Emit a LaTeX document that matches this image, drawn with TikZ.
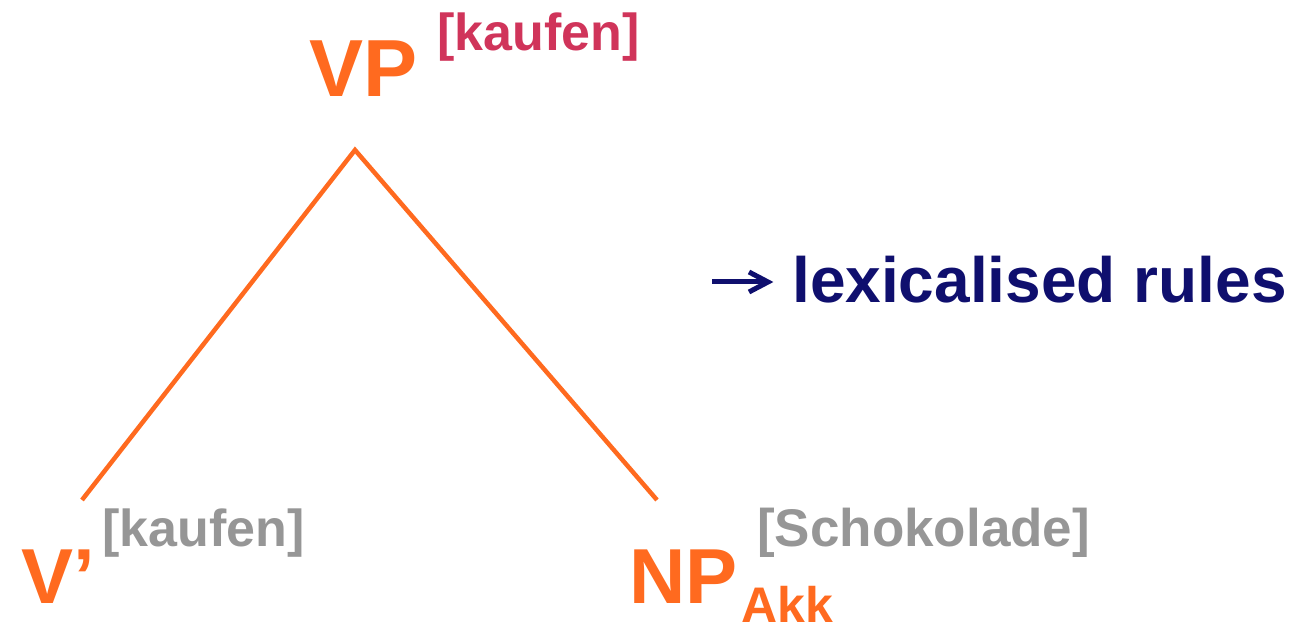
\documentclass[tikz,border=0pt]{standalone}
\usepackage{fontspec}
\usetikzlibrary{calc}
\setmainfont{Liberation Sans}[BoldFont={Liberation Sans Bold}]
\definecolor{treeorange}{HTML}{FF6A1F}
\definecolor{headred}{HTML}{D0345A}
\definecolor{featgray}{HTML}{969696}
\definecolor{notenavy}{HTML}{0F0F6E}
\tikzset{
  lbl/.style={anchor=base west, inner sep=0pt, text depth=0pt, font=\bfseries},
  cat/.style={lbl, text=treeorange},
  branch/.style={draw=treeorange, line width=4.5pt},
  pointer/.style={draw=notenavy, line width=5pt}
}
\newcommand{\fsz}[1]{\fontsize{#1}{#1}\selectfont}
\begin{document}
\begin{tikzpicture}[x=1pt,y=-1pt]
  \useasboundingbox (0,0) rectangle (1293,628);
  % category labels with their lexical heads
  \node[cat, font=\bfseries\fsz{81}] (vp) at (309,97) {VP};
  \node[lbl, text=headred, font=\bfseries\fsz{52}] (vphead) at (437,51) {[kaufen]};
  \node[cat, font=\bfseries\fsz{78}] (vbar) at (21,603) {V’};
  \node[lbl, text=featgray, font=\bfseries\fsz{52}] (vhead) at (102,546) {[kaufen]};
  \node[cat, font=\bfseries\fsz{78}] (np) at (629,603) {NP};
  \node[cat, font=\bfseries\fsz{50}] (akk) at (741,622) {Akk};
  \node[lbl, text=featgray, font=\bfseries\fsz{53}] (nphead) at (757,546) {[Schokolade]};
  % note with its pointer arrow
  \node[lbl, text=notenavy, font=\bfseries\fsz{64}] (note) at (792,302) {lexicalised rules};
  \coordinate (ptail) at (712,282);
  \coordinate (ptip) at (768,282);
  \draw[pointer] (ptail) -- (ptip);
  \draw[pointer, miter limit=4] ($(ptip)+(-19,-10)$) -- (ptip) -- ($(ptip)+(-19,10)$);
  % branches
  \coordinate (top) at (355,150);
  \coordinate (lft) at (82,500);
  \coordinate (rgt) at (657,500);
  \draw[branch] (lft) -- (top) -- (rgt);
\end{tikzpicture}
\end{document}
